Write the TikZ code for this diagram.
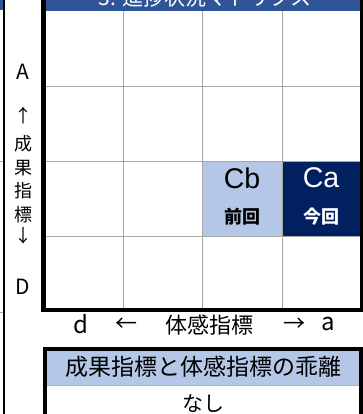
\documentclass[tikz,border=0pt]{standalone}
\usepackage{fontspec}
\setmainfont{Noto Sans CJK JP}
\newfontfamily\arialfont{Liberation Sans}
\usetikzlibrary{positioning}
\definecolor{hdrblue}{RGB}{47,85,151}
\definecolor{paleblue}{RGB}{180,199,231}
\definecolor{navyblue}{RGB}{0,32,96}
\definecolor{gridgray}{RGB}{166,166,166}
\tikzset{
  axislbl/.style={inner sep=0pt, font=\fontsize{18}{18}\selectfont},
  axisltr/.style={inner sep=0pt, font=\fontsize{21}{21}\selectfont},
  xaxislbl/.style={inner sep=0pt, font=\fontsize{22}{22}\selectfont},
  xaxisltr/.style={inner sep=0pt, font=\fontsize{24}{24}\selectfont},
  celltag/.style={inner sep=0pt, font=\arialfont\fontsize{28.5}{28.5}\selectfont},
  cellsub/.style={inner sep=0pt, font=\bfseries\fontsize{18}{18}\selectfont},
  gridline/.style={draw=gridgray, line width=0.9pt},
  heavyframe/.style={draw=black, line width=4.5pt},
}

\begin{document}
\begin{tikzpicture}[x=1pt, y=-1pt]
  \useasboundingbox (0,0) rectangle (363,414);
  % edge of the neighbouring panel
  \fill[hdrblue] (0,-5) rectangle (4,10.5);
  \draw[gridline] (0,161) -- (3,161) (0,312) -- (3,312);
  \draw[line width=1.6pt] (4,-5) -- (4,420);

  % title bar
  \fill[hdrblue] (44,-30) rectangle (363,11);
  \node[text=white, inner sep=0pt, anchor=base, font=\fontsize{21}{21}\selectfont] (title) at (205,5.5) {3. 進捗状況マトリクス};

  % matrix cells
  \fill[paleblue] (202,161) rectangle (282,236);
  \fill[navyblue] (282,161) rectangle (360,236);
  \foreach \gx in {123,202,282}
    \draw[gridline] (\gx,11) -- (\gx,308);
  \foreach \gy in {86,161,236}
    \draw[gridline] (46,\gy) -- (360,\gy);
  \draw[heavyframe] (43.5,-5) -- (43.5,310) -- (362,310) -- (362,-5);

  \node[celltag] (cbtag) at (242,178) {Cb};
  \node[cellsub] (cbsub) at (242,217) {前回};
  \node[celltag, text=white] (catag) at (321,178) {Ca};
  \node[cellsub, text=white] (casub) at (321,217) {今回};

  % axis labels
  \node[axisltr] (ytop) at (23,72) {A};
  \foreach \ch/\cy [count=\k] in {↑/116, 成/144, 果/168, 指/191, 標/215, ↓/236}
    \node[axislbl] (ylbl\k) at (23,\cy) {\ch};
  \node[axisltr] (ybot) at (23,287) {D};
  \node[xaxisltr] (xleft) at (81,324) {d};
  \foreach \ch/\cx [count=\k] in {←/126, 体感指標/209, →/294}
    \node[xaxislbl] (xlbl\k) at (\cx,325) {\ch};
  \node[xaxisltr] (xright) at (328,324) {a};

  % gap table
  \fill[paleblue] (45,349) rectangle (361,385);
  \draw[draw=paleblue!70!gray, line width=0.9pt] (45,385) -- (361,385);
  \draw[line width=4pt] (45,425) -- (45,349) -- (361,349) -- (361,425);
  \node[inner sep=0pt, font=\fontsize{23}{23}\selectfont] (gaphead) at (203,367) {成果指標と体感指標の乖離};
  \node[inner sep=0pt, font=\fontsize{21}{21}\selectfont] (gapval) at (203,403.5) {なし};
\end{tikzpicture}
\end{document}
